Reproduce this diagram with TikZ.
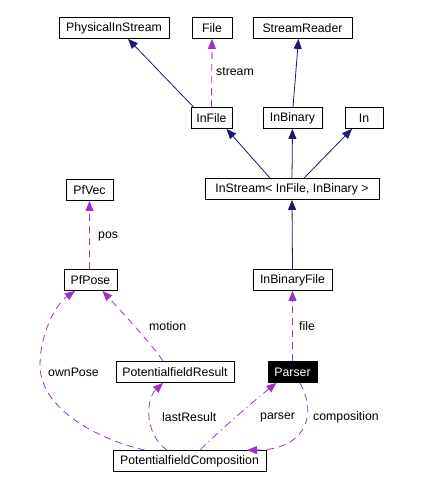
\documentclass[tikz,border=0pt]{standalone}
\usepackage{fontspec}
\setmainfont{Liberation Sans}
\usetikzlibrary{arrows.meta}
\definecolor{navy}{RGB}{25,25,112}
\definecolor{orchid}{RGB}{154,50,205}
\begin{document}
\begin{tikzpicture}[x=1pt,y=-1pt,
  cls/.style={draw=black,line width=0.8pt,fill=white,inner sep=0pt,minimum height=21pt,
    font=\fontsize{12.3}{14}\selectfont},
  inh/.style={draw=navy,line width=0.8pt,-{Triangle[length=10pt,width=8pt]},color=navy},
  use/.style={draw=orchid,line width=0.8pt,dash pattern=on 7pt off 5pt,-{Triangle[length=10pt,width=8pt]},color=orchid},
  usedd/.style={draw=orchid,line width=0.8pt,dash pattern=on 8pt off 4pt on 1pt off 4pt,-{Triangle[length=10pt,width=8pt]},color=orchid},
  lbl/.style={anchor=west,inner sep=0pt,font=\fontsize{12.3}{14}\selectfont,text=black}]
\useasboundingbox (0,0) rectangle (427,489);
\fill[white] (0,0) rectangle (427,489);
% nodes
\node[cls,minimum width=110pt] (pis) at (114,28) {PhysicalInStream};
\node[cls,minimum width=40pt] (file) at (212,28) {File};
\node[cls,minimum width=99pt] (sreader) at (302.5,28) {StreamReader};
\node[cls,minimum width=41pt] (infile) at (211.5,118) {InFile};
\node[cls,minimum width=59pt] (inbinary) at (292.5,118) {InBinary};
\node[cls,minimum width=38pt] (in) at (364,118) {In};
\node[cls,minimum width=174pt] (instream) at (292,189) {InStream< InFile, InBinary >};
\node[cls,minimum width=47pt] (pfvec) at (89.5,190) {PfVec};
\node[cls,minimum width=79pt] (ibf) at (292.5,280) {InBinaryFile};
\node[cls,minimum width=53pt] (pfpose) at (90.5,280) {PfPose};
\node[cls,minimum width=118pt] (pfres) at (175,372) {PotentialfieldResult};
\node[cls,minimum width=49pt,fill=black,text=white] (parser) at (292.5,372) {Parser};
\node[cls,minimum width=153pt] (pfc) at (189.5,461) {PotentialfieldComposition};
% inheritance
\draw[inh] ([xshift=3pt]infile.north west) -- ([xshift=14pt]pis.south);
\draw[inh] ([xshift=0.5pt]inbinary.north) -- ([xshift=-4pt]sreader.south);
\draw[inh] ([xshift=-22pt]instream.north) -- ([xshift=15pt]infile.south);
\draw[inh] (instream.north) -- (inbinary.south);
\draw[inh] ([xshift=12pt]instream.north) -- ([xshift=-12pt]in.south);
\draw[inh] (ibf.north) -- (instream.south);
% usage
\draw[use] (infile.north) -- (file.south);
\node[lbl] (lstream) at (216,72) {stream};
\draw[use] (parser.north) -- (ibf.south);
\node[lbl] (lfile) at (299,326) {file};
\draw[use] ([xshift=-1pt]pfpose.north) -- (pfvec.south);
\node[lbl] (lpos) at (98,236) {pos};
\draw[use] ([xshift=-12pt]pfres.north) .. controls (155,348) and (120,310) .. ([xshift=12pt]pfpose.south);
\node[lbl] (lmotion) at (149,326) {motion};
\draw[use] ([xshift=-44.5pt]pfc.north) .. controls (100,440) and (40,410) .. (40,365)
  .. controls (40,335) and (55,305) .. ([xshift=-15.5pt]pfpose.south);
\node[lbl] (lownpose) at (48,372) {ownPose};
\draw[use] ([xshift=-22.5pt]pfc.north) .. controls (145,435) and (145,400) .. ([xshift=-12pt]pfres.south);
\node[lbl] (llast) at (162,417) {lastResult};
\draw[usedd] ([xshift=10.5pt]pfc.north) .. controls (220,430) and (255,400) .. ([xshift=-16pt]parser.south);
\node[lbl] (lparser) at (260,417) {parser};
\draw[use] ([xshift=7.5pt]parser.south) .. controls (320,420) and (300,450) .. ([xshift=57.5pt]pfc.north);
\node[lbl] (lcomp) at (313,417) {composition};
\end{tikzpicture}
\end{document}
